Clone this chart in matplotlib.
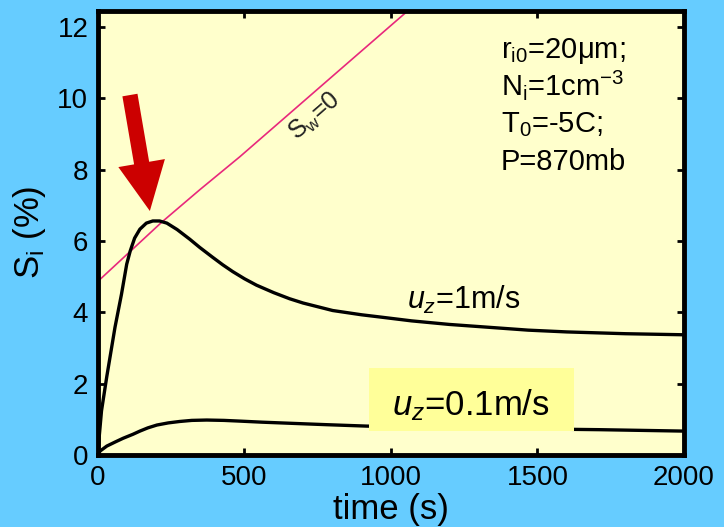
import matplotlib
matplotlib.use("Agg")
import matplotlib.pyplot as plt
from matplotlib.patches import Rectangle

plt.rcParams['font.family'] = ['Liberation Sans', 'DejaVu Sans']
plt.rcParams['mathtext.fontset'] = 'custom'
plt.rcParams['mathtext.rm'] = 'Liberation Sans'
plt.rcParams['mathtext.it'] = 'Liberation Sans:italic'
plt.rcParams['mathtext.bf'] = 'Liberation Sans:bold'

# ---- data ----
t_fast = [0, 4, 12, 30, 58, 80, 98, 110, 125, 143, 165, 187, 210, 235, 270, 313,
          347, 390, 426, 460, 500, 541, 600, 654, 700, 801, 900, 971, 1070, 1199,
          1300, 1468, 1600, 1800, 2000]
s_fast = [0, 0.5, 1.24, 2.2, 3.58, 4.5, 5.35, 5.72, 6.08, 6.33, 6.5, 6.56, 6.56,
          6.5, 6.32, 6.05, 5.82, 5.55, 5.33, 5.14, 4.94, 4.76, 4.55, 4.38, 4.26,
          4.05, 3.93, 3.86, 3.76, 3.66, 3.6, 3.5, 3.45, 3.4, 3.37]

t_slow = [0, 7, 30, 60, 86, 119, 143, 170, 201, 240, 279, 320, 371, 430, 484,
          560, 654, 780, 917, 1100, 1300, 1500, 1710, 2000]
s_slow = [0, 0.11, 0.25, 0.37, 0.47, 0.58, 0.67, 0.76, 0.84, 0.9, 0.94, 0.97,
          0.98, 0.97, 0.95, 0.92, 0.89, 0.85, 0.81, 0.78, 0.75, 0.73, 0.71, 0.67]

t_sw0 = [0, 218, 348, 484, 865, 1060]
s_sw0 = [4.87, 6.53, 7.44, 8.36, 11.08, 12.47]

x_ticks = [0, 500, 1000, 1500, 2000]
y_ticks = [0, 2, 4, 6, 8, 10, 12]

info_lines = [r"r$_{\mathrm{i0}}$=20μm;", r"N$_{\mathrm{i}}$=1cm$^{\mathrm{-3}}$",
              r"T$_{\mathrm{0}}$=-5C;", "P=870mb"]

fig = plt.figure(figsize=(7.24, 5.27), dpi=100, facecolor='#66CCFF')
ax = fig.add_axes([98/724, 1-455/527, (684-98)/724, (455-10.5)/527])
ax.set_facecolor('#FFFFCC')

ax.plot(t_sw0, s_sw0, color='#E8287C', lw=1.2, zorder=2)
ax.plot(t_fast, s_fast, color='black', lw=2.4, zorder=3,
        solid_capstyle='round', solid_joinstyle='round')
ax.plot(t_slow, s_slow, color='black', lw=2.4, zorder=3,
        solid_capstyle='round', solid_joinstyle='round')

ax.set_xlim(0, 2000)
ax.set_ylim(0, 12.46)
ax.set_xticks(x_ticks)
ax.set_yticks(y_ticks)
ax.tick_params(direction='in', length=5, width=2, labelsize=20, pad=7,
               top=True, right=True, colors='black')
for sp in ax.spines.values():
    sp.set_linewidth(3.5)
    sp.set_zorder(5)

ax.set_xlabel('time (s)', fontsize=25, labelpad=2)
ax.set_ylabel(r'S$_{\mathrm{i}}$ (%)', fontsize=25, labelpad=7)

# info text
for i, line in enumerate(info_lines):
    ax.text(1375, 11.13 - i * 1.045, line, fontsize=21, va='baseline', ha='left', zorder=6)

# S_w = 0 label
ax.text(741, 9.48, r'S$_{\mathrm{w}}$=0', fontsize=18, rotation=41, color='#222222',
        ha='center', va='center', zorder=6)

# u_z = 1 m/s label
ax.text(1055, 4.09, r'$u_{z}$=1m/s', fontsize=22, va='baseline', ha='left', zorder=6)

# u_z = 0.1 m/s boxed label
ax.add_patch(Rectangle((925, 0.67), 700, 1.77, facecolor='#FFFF99', edgecolor='none', zorder=4))
ax.text(1003, 1.12, r'$u_{z}$=0.1m/s', fontsize=25, va='baseline', ha='left', zorder=6)

# red arrow
ax.annotate('', xy=(177, 6.84), xytext=(109, 10.09),
            arrowprops=dict(arrowstyle='simple,head_length=35,head_width=34,tail_width=11',
                            mutation_scale=1, facecolor='#CC0000', edgecolor='none',
                            shrinkA=0, shrinkB=0), zorder=6)

fig.savefig('out.png', dpi=100, facecolor=fig.get_facecolor())
